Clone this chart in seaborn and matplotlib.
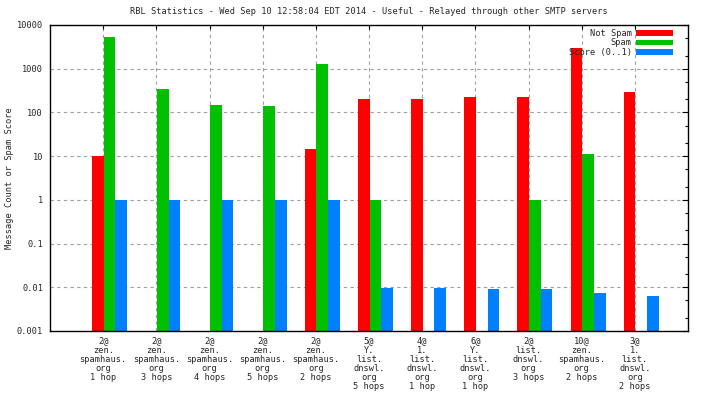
import numpy as np
import pandas as pd
import matplotlib
matplotlib.use("Agg")
import matplotlib.pyplot as plt
import matplotlib.ticker as mticker
import seaborn as sns

# RBL entries (x tick labels)
rbl_labels = [
    "2@\nzen.\nspamhaus.\norg\n1 hop",
    "2@\nzen.\nspamhaus.\norg\n3 hops",
    "2@\nzen.\nspamhaus.\norg\n4 hops",
    "2@\nzen.\nspamhaus.\norg\n5 hops",
    "2@\nzen.\nspamhaus.\norg\n2 hops",
    "5@\nY.\nlist.\ndnswl.\norg\n5 hops",
    "4@\n1.\nlist.\ndnswl.\norg\n1 hop",
    "6@\nY.\nlist.\ndnswl.\norg\n1 hop",
    "2@\nlist.\ndnswl.\norg\n3 hops",
    "10@\nzen.\nspamhaus.\norg\n2 hops",
    "3@\n1.\nlist.\ndnswl.\norg\n2 hops",
]

# values (nan = nothing drawn)
not_spam = [10, np.nan, np.nan, np.nan, 14.5, 200, 200, 220, 220, 2950, 300]
spam = [5300, 350, 145, 140, 1300, 1.0, np.nan, np.nan, 1.0, 11, np.nan]
score = [1.0, 1.0, 0.97, 0.97, 0.97, 0.0097, 0.0097, 0.009, 0.009, 0.0075, 0.0064]

series_names = ["Not Spam", "Spam", "Score (0..1)"]
colors = ["#ff0000", "#00c000", "#0080ff"]

rows = []
for name, vals in zip(series_names, [not_spam, spam, score]):
    for lab, v in zip(rbl_labels, vals):
        if not np.isnan(v):
            rows.append({"rbl": lab, "series": name, "value": v})
df = pd.DataFrame(rows)

sns.set_theme(style="white")
plt.rcParams["font.family"] = ["DejaVu Sans Mono"]
fs = 6.2

fig = plt.figure(figsize=(7.04, 3.96), dpi=100)
ax = fig.add_axes([50 / 704, 65 / 396, 638 / 704, 306 / 396])
ax.set_yscale("log")

sns.barplot(data=df, x="rbl", y="value", hue="series", order=rbl_labels,
            hue_order=series_names, palette=colors, width=0.66,
            errorbar=None, saturation=1, ax=ax, linewidth=0)

ax.set_ylim(0.001, 10000)
ax.yaxis.set_minor_locator(mticker.LogLocator(base=10, subs=(2, 5), numticks=20))
ax.yaxis.set_minor_formatter(mticker.NullFormatter())
ytick_vals = [0.001, 0.01, 0.1, 1, 10, 100, 1000, 10000]
ax.set_yticks(ytick_vals)
ax.set_yticklabels(["0.001", "0.01", "0.1", "1", "10", "100", "1000", "10000"], fontsize=fs)

shift = 0.12
ax.set_xticks(np.arange(len(rbl_labels)) - shift)
ax.set_xticklabels(rbl_labels, fontsize=fs, linespacing=1.0, va="top")
ax.set_xlim(-1 - shift, len(rbl_labels) - shift)

ax.grid(True, which="major", axis="both", color="#a0a0a0", linestyle=(0, (3, 3)), linewidth=0.8)
ax.set_axisbelow(True)
ax.tick_params(axis="both", which="both", direction="in", top=True, right=True,
               color="black", width=0.8)
ax.tick_params(axis="y", which="major", length=4, pad=5)
ax.tick_params(axis="y", which="minor", length=2)
ax.tick_params(axis="x", which="major", length=3, pad=4)
for sp in ax.spines.values():
    sp.set_color("black")
    sp.set_linewidth(1.0)

ax.set_xlabel("")
ax.set_ylabel("Message Count or Spam Score", fontsize=fs)
ax.yaxis.set_label_coords(-0.057, 0.5)
ax.set_title("RBL Statistics - Wed Sep 10 12:58:04 EDT 2014 - Useful - Relayed through other SMTP servers",
             fontsize=fs, pad=8)

leg = ax.legend(loc="upper right", bbox_to_anchor=(1 - 15 / 638, 1 - 4 / 306),
                frameon=False, fontsize=fs, markerfirst=False,
                handlelength=4.3, handleheight=0.6, borderaxespad=0, borderpad=0,
                labelspacing=0.05, handletextpad=0.5)
for t in leg.get_texts():
    t.set_ha("right")

fig.savefig("out.png", dpi=100)
